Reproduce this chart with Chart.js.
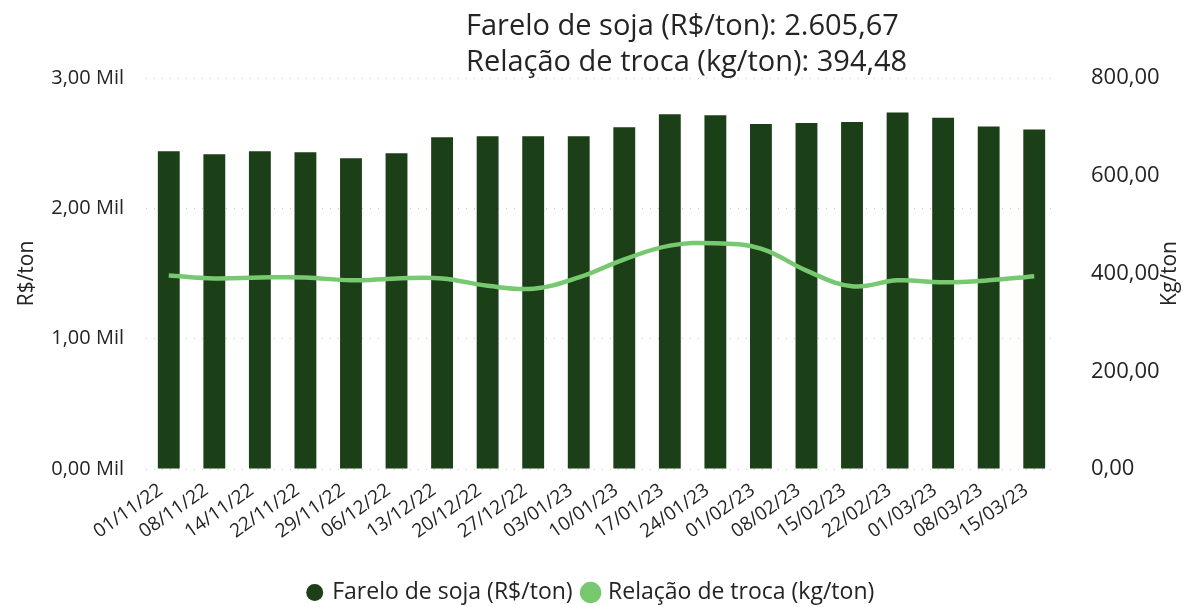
<!DOCTYPE html>
<html>
<head>
<meta charset="utf-8">
<script src="https://cdn.jsdelivr.net/npm/chart.js@4.4.0/dist/chart.umd.min.js"></script>
<style>
    html, body { margin: 0; padding: 0; background: #fff; }
    #wrap { width: 1183px; height: 607px; position: relative; }
</style>
</head>
<body>
<div id="wrap"><canvas id="chart"></canvas></div>
<script>
// Даты (категории)
const labels = ['01/11/22', '08/11/22', '14/11/22', '22/11/22', '29/11/22', '06/12/22', '13/12/22',
    '20/12/22', '27/12/22', '03/01/23', '10/01/23', '17/01/23', '24/01/23', '01/02/23',
    '08/02/23', '15/02/23', '22/02/23', '01/03/23', '08/03/23', '15/03/23'];

// Farelo de soja (R$/ton)
const fareloValues = [2438, 2415, 2438, 2430, 2385, 2423, 2546, 2554, 2554, 2554,
    2623, 2721, 2715, 2648, 2654, 2662, 2736, 2695, 2628, 2605.67];

// Relação de troca (kg/ton)
const trocaValues = [396, 390, 392, 392, 386, 390, 390, 375, 369, 392,
    429, 457, 462, 451, 406, 374, 386, 382, 386, 394.48];

const headerLines = ['Farelo de soja (R$/ton): 2.605,67', 'Relação de troca (kg/ton): 394,48'];
const rightTitle = 'Kg/ton';

const DARK = '#1b3f17';
const LIGHT = '#77c96f';
const FONT = "'Open Sans', 'DejaVu Sans', sans-serif";

// Заголовок-подсказка поверх графика и подпись правой оси
const headerPlugin = {
    id: 'header',
    afterDraw(chart) {
        const ctx = chart.ctx;
        const area = chart.chartArea;
        ctx.save();
        ctx.fillStyle = '#252423';
        ctx.font = "29px 'Open Sans', sans-serif";
        ctx.textBaseline = 'middle';
        ctx.textAlign = 'left';
        ctx.fillText(headerLines[0], 466, 27);
        ctx.fillText(headerLines[1], 466, 63);
        // подпись правой оси (снизу вверх)
        ctx.translate(1170, (area.top + area.bottom) / 2);
        ctx.rotate(-Math.PI / 2);
        ctx.textAlign = 'center';
        ctx.font = "21px 'Open Sans', sans-serif";
        ctx.fillText(rightTitle, 0, 0);
        ctx.restore();
    }
};

new Chart(document.getElementById('chart'), {
    type: 'bar',
    data: {
        labels: labels,
        datasets: [
            {
                type: 'bar',
                label: 'Farelo de soja (R$/ton)',
                data: fareloValues,
                backgroundColor: DARK,
                borderColor: DARK,
                yAxisID: 'y',
                order: 2,
                barPercentage: 0.48,
                categoryPercentage: 1
            },
            {
                type: 'line',
                label: 'Relação de troca (kg/ton)',
                data: trocaValues,
                borderColor: LIGHT,
                backgroundColor: LIGHT,
                borderWidth: 4.5,
                tension: 0.4,
                pointRadius: 0,
                yAxisID: 'y1',
                order: 1
            }
        ]
    },
    options: {
        responsive: true,
        maintainAspectRatio: false,
        animation: false,
        layout: { padding: { top: 78, bottom: -7, left: 0, right: 0 } },
        scales: {
            x: {
                grid: { display: false },
                border: { display: false },
                ticks: {
                    color: '#252423',
                    font: { family: FONT, size: 19 },
                    minRotation: 35,
                    maxRotation: 35,
                    padding: 2,
                    labelOffset: -8,
                    autoSkip: false
                },
                afterFit(scale) { scale.height = 100; }
            },
            y: {
                position: 'left',
                min: 0,
                max: 3000,
                ticks: {
                    stepSize: 1000,
                    color: '#252423',
                    font: { family: FONT, size: 20 },
                    padding: 22,
                    callback: v => (v / 1000).toFixed(2).replace('.', ',') + ' Mil'
                },
                grid: { color: '#c8c8c8', lineWidth: 1, drawTicks: false },
                border: { display: false, dash: [1, 7] },
                title: {
                    display: true,
                    text: 'R$/ton',
                    color: '#252423',
                    font: { family: FONT, size: 21 },
                    padding: { top: 14, bottom: 4 }
                },
                afterFit(scale) { scale.width = 146; }
            },
            y1: {
                position: 'right',
                min: 0,
                max: 800,
                ticks: {
                    stepSize: 200,
                    color: '#252423',
                    font: { family: FONT, size: 22 },
                    padding: 26,
                    callback: v => v.toFixed(2).replace('.', ',')
                },
                grid: { display: false },
                border: { display: false },
                afterFit(scale) { scale.width = 126; }
            }
        },
        plugins: {
            legend: {
                position: 'bottom',
                labels: {
                    usePointStyle: true,
                    pointStyle: 'circle',
                    boxWidth: 12,
                    boxHeight: 12,
                    padding: 12,
                    color: '#252423',
                    font: { family: FONT, size: 23 },
                    sort: (a, b) => a.datasetIndex - b.datasetIndex
                }
            },
            tooltip: { enabled: false }
        }
    },
    plugins: [headerPlugin]
});
</script>
</body>
</html>
